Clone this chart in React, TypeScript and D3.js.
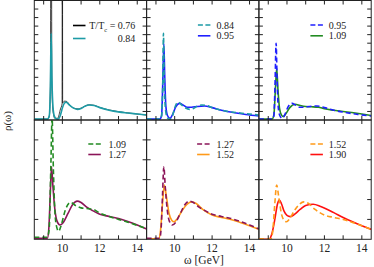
import React from "react";
import * as d3 from "d3";

// ---- data ----
const xTicks = [9, 10, 11, 12, 13, 14];
const xTickLabels = ["10", "12", "14"];

const w076 = [8.5, 9.2, 9.3, 9.36, 9.4, 9.44, 9.5, 9.6, 9.75, 9.9, 9.985, 10.0, 10.015, 10.1, 10.2, 10.4, 10.6, 10.85, 11.1, 11.4, 11.7, 12.0, 12.5, 13.0, 13.5, 14.0, 14.5];
const r076 = [0.1, 0.1, 0.4, 4, 40, 4, 1.0, 0.2, 0.2, 1.3, 1.9, 40, 2.0, 2.2, 2.2, 1.75, 1.4, 1.3, 1.5, 1.78, 1.72, 1.47, 1.18, 0.97, 0.83, 0.7, 0.58];

const w084 = [8.5, 9.2, 9.3, 9.36, 9.4, 9.44, 9.5, 9.58, 9.68, 9.78, 9.9, 10.0, 10.1, 10.2, 10.35, 10.55, 10.8, 11.0, 11.2, 11.45, 11.7, 12.0, 12.5, 13.0, 13.5, 14.0, 14.5];
const r084 = [0.1, 0.1, 0.5, 4, 10.15, 5, 1.5, 0.4, 0.12, 0.1, 0.6, 1.4, 1.95, 2.1, 1.8, 1.45, 1.25, 1.35, 1.6, 1.75, 1.7, 1.45, 1.15, 0.95, 0.82, 0.7, 0.58];

const w095 = [8.5, 9.2, 9.3, 9.36, 9.42, 9.47, 9.53, 9.62, 9.75, 9.9, 10.05, 10.27, 10.45, 10.65, 10.9, 11.2, 11.6, 12.0, 12.5, 13.2, 13.8, 14.5];
const r095 = [0.1, 0.1, 0.5, 4, 9.0, 5, 1.6, 0.5, 0.2, 0.7, 1.5, 1.95, 1.75, 1.5, 1.5, 1.58, 1.64, 1.45, 1.15, 0.85, 0.65, 0.47];

const w109 = [8.5, 9.2, 9.3, 9.38, 9.45, 9.52, 9.6, 9.7, 9.8, 9.95, 10.15, 10.44, 10.7, 11.0, 11.3, 11.68, 12.0, 12.5, 13.0, 13.46, 14.0, 14.5];
const r109 = [0.1, 0.1, 0.6, 3.5, 6.1, 3.5, 1.4, 0.6, 0.4, 0.75, 1.45, 1.85, 1.7, 1.58, 1.55, 1.49, 1.32, 1.15, 1.0, 0.87, 0.7, 0.53];

const w127 = [8.5, 9.2, 9.28, 9.35, 9.42, 9.5, 9.6, 9.72, 9.87, 10.05, 10.3, 10.55, 10.79, 11.0, 11.3, 11.6, 12.0, 12.5, 13.0, 13.5, 14.0, 14.5];
const r127 = [0.05, 0.05, 0.6, 2.2, 3.65, 2.6, 1.5, 0.9, 0.72, 0.85, 1.3, 1.75, 1.92, 1.85, 1.62, 1.45, 1.26, 1.15, 1.05, 0.9, 0.72, 0.52];

const w152 = [8.5, 9.15, 9.25, 9.35, 9.45, 9.55, 9.7, 9.85, 9.97, 10.15, 10.4, 10.65, 10.9, 11.15, 11.5, 12.0, 12.5, 13.0, 13.5, 14.0, 14.5];
const r152 = [0.03, 0.03, 0.5, 1.8, 2.73, 2.2, 1.3, 0.95, 0.88, 1.05, 1.45, 1.75, 1.88, 1.8, 1.5, 1.22, 1.1, 1.0, 0.85, 0.68, 0.5];

const w190 = [8.5, 9.05, 9.2, 9.35, 9.5, 9.59, 9.7, 9.85, 10.0, 10.18, 10.4, 10.7, 11.0, 11.4, 11.8, 12.5, 13.0, 13.5, 14.0, 14.5];
const r190 = [0.0, 0.0, 0.3, 1.0, 1.8, 1.97, 1.8, 1.4, 1.2, 1.14, 1.25, 1.5, 1.7, 1.76, 1.65, 1.34, 1.1, 0.88, 0.68, 0.5];

const topYMax = 14;
const bottomYMax = 6;

type Series = { w: number[]; r: number[]; color: string; dashed: boolean; label: string };

const C = {
  black: "#000000",
  teal: "#1d9ba6",
  blue: "#1f1fff",
  green: "#228b22",
  purple: "#8b1458",
  orange: "#ff9a1a",
  red: "#ff1010",
};

const panels: { row: number; col: number; series: Series[]; lx: number; tx: number; anchorEnd?: boolean; ly: number[] }[] = [
  { row: 0, col: 0, lx: 38.7, tx: 101, anchorEnd: true, ly: [25.5, 38.5],
    series: [
      { w: w076, r: r076, color: C.black, dashed: false, label: "0.76" },
      { w: w084, r: r084, color: C.teal, dashed: false, label: "0.84" },
    ] },
  { row: 0, col: 1, lx: 51.3, tx: 70, ly: [25, 35.8],
    series: [
      { w: w084, r: r084, color: C.teal, dashed: true, label: "0.84" },
      { w: w095, r: r095, color: C.blue, dashed: false, label: "0.95" },
    ] },
  { row: 0, col: 2, lx: 51.5, tx: 69.8, ly: [25, 35.8],
    series: [
      { w: w095, r: r095, color: C.blue, dashed: true, label: "0.95" },
      { w: w109, r: r109, color: C.green, dashed: false, label: "1.09" },
    ] },
  { row: 1, col: 0, lx: 54, tx: 74.3, ly: [144, 154.5],
    series: [
      { w: w109, r: r109, color: C.green, dashed: true, label: "1.09" },
      { w: w127, r: r127, color: C.purple, dashed: false, label: "1.27" },
    ] },
  { row: 1, col: 1, lx: 50.5, tx: 70, ly: [144, 154.5],
    series: [
      { w: w127, r: r127, color: C.purple, dashed: true, label: "1.27" },
      { w: w152, r: r152, color: C.orange, dashed: false, label: "1.52" },
    ] },
  { row: 1, col: 2, lx: 51.5, tx: 69.8, ly: [144, 154.5],
    series: [
      { w: w152, r: r152, color: C.orange, dashed: true, label: "1.52" },
      { w: w190, r: r190, color: C.red, dashed: false, label: "1.90" },
    ] },
];

const LEFT = 34.3;
const PW = 112.3;
const TOP = 0.5;
const MID = 120;
const BOT = 239.3;
const FONT = "'Liberation Serif', 'DejaVu Serif', serif";

export default function App() {
  const x = d3.scaleLinear().domain([8.5, 14.5]);
  return (
    <svg width={374} height={267} style={{ position: "absolute", left: 0, top: 0, background: "#fff" }}>
      <defs>
        {panels.map((p, i) => {
          const x0 = LEFT + p.col * PW;
          const y0 = p.row === 0 ? TOP : MID;
          const y1 = p.row === 0 ? MID : BOT;
          return (
            <clipPath id={`clip${i}`} key={i}>
              <rect x={x0} y={y0} width={PW} height={y1 - y0} />
            </clipPath>
          );
        })}
      </defs>
      {panels.map((p, i) => {
        const x0 = LEFT + p.col * PW;
        const y0 = p.row === 0 ? TOP : MID;
        const y1 = p.row === 0 ? MID : BOT;
        const xs = x.copy().range([x0, x0 + PW]);
        const ymax = p.row === 0 ? topYMax : bottomYMax;
        const ys = d3.scaleLinear().domain([0, ymax]).range([y1, y0]);
        const yt = d3.range(1, ymax);
        const paths = p.series.map((s) => {
          const pts: [number, number][] = s.w.map((w, k) => [xs(w), ys(s.r[k])]);
          return d3.line().curve(d3.curveMonotoneX)(pts) || "";
        });
        // solid first, dashed on top
        const order = p.series
          .map((_, k) => k)
          .sort((a, b) => (p.series[a].dashed ? 1 : 0) - (p.series[b].dashed ? 1 : 0));
        return (
          <g key={i}>
            <g clipPath={`url(#clip${i})`}>
              {order.map((k) => (
                <path
                  key={k}
                  d={paths[k]}
                  fill="none"
                  stroke={p.series[k].color}
                  strokeOpacity={p.series[k].color === C.black ? 0.75 : 1}
                  strokeWidth={p.series[k].color === C.black ? 1.0 : 1.6}
                  strokeDasharray={p.series[k].dashed ? "5,3" : undefined}
                  strokeLinejoin="round"
                />
              ))}
            </g>
            <rect x={x0} y={y0} width={PW} height={y1 - y0} fill="none" stroke="#222" strokeWidth={1} />
            {xTicks.map((t) => (
              <g key={"xt" + t}>
                <line x1={xs(t)} x2={xs(t)} y1={y1} y2={y1 - 4} stroke="#222" strokeWidth={1} />
                <line x1={xs(t)} x2={xs(t)} y1={y0} y2={y0 + 4} stroke="#222" strokeWidth={1} />
              </g>
            ))}
            {yt.map((t) => (
              <g key={"yt" + t}>
                <line x1={x0} x2={x0 + 4} y1={ys(t)} y2={ys(t)} stroke="#222" strokeWidth={1} />
                <line x1={x0 + PW} x2={x0 + PW - 4} y1={ys(t)} y2={ys(t)} stroke="#222" strokeWidth={1} />
              </g>
            ))}
            {p.series.map((s, k) => (
              <g key={"lg" + k}>
                <line
                  x1={x0 + p.lx}
                  x2={x0 + p.lx + 12.5}
                  y1={p.ly[k]}
                  y2={p.ly[k]}
                  stroke={s.color}
                  strokeWidth={1.6}
                  strokeDasharray={s.dashed ? "5,2.5" : undefined}
                />
                {p.anchorEnd ? (
                  <text x={x0 + p.tx} y={p.ly[k] + 3.5} fontSize={10} fontFamily={FONT} textAnchor="end" fill="#222">
                    {k === 0 ? (
                      <>
                        T/T<tspan fontSize={6.5} dy={2.5}>c</tspan>
                        <tspan dy={-2.5}> = {s.label}</tspan>
                      </>
                    ) : (
                      s.label
                    )}
                  </text>
                ) : (
                  <text x={x0 + p.tx} y={p.ly[k] + 3.5} fontSize={10} fontFamily={FONT} fill="#222">
                    {s.label}
                  </text>
                )}
              </g>
            ))}
            {p.row === 1 &&
              xTickLabels.map((l) => (
                <text key={"xl" + l} x={xs(+l)} y={251.5} fontSize={11.5} fontFamily={FONT} textAnchor="middle" fill="#222">
                  {l}
                </text>
              ))}
          </g>
        );
      })}
      <text x={204} y={264} fontSize={11.5} fontFamily={FONT} textAnchor="middle" fill="#222">
        ω [GeV]
      </text>
      <text
        transform="translate(11,121) rotate(-90)"
        fontSize={11}
        fontFamily={FONT}
        textAnchor="middle"
        fill="#222"
      >
        ρ(ω)
      </text>
    </svg>
  );
}
